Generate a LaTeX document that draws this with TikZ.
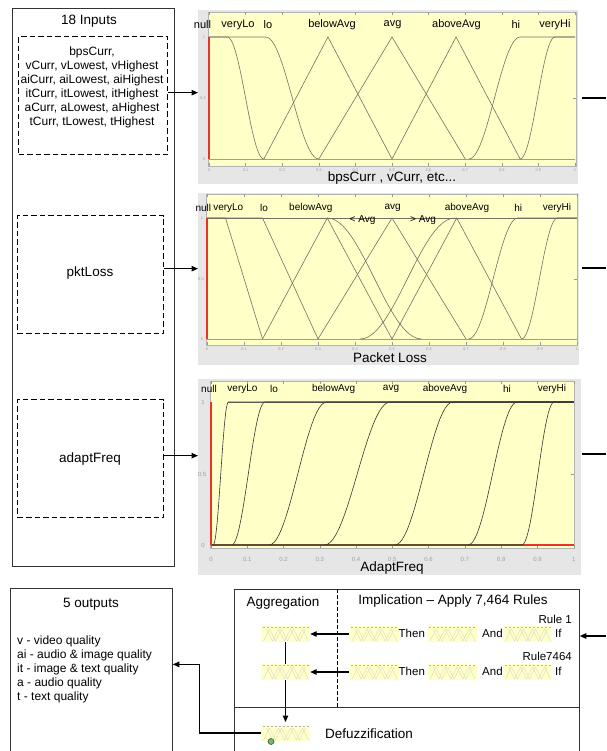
\documentclass[tikz,border=0pt]{standalone}
\usepackage{fontspec}
\setmainfont{Liberation Sans}
\usetikzlibrary{arrows.meta}
\pgfdeclarelayer{bg}
\pgfsetlayers{bg,main}
\definecolor{plotyel}{HTML}{FFFFC8}
\definecolor{plotgray}{HTML}{E6E6E6}
\definecolor{mfcol}{HTML}{7A6E62}
\definecolor{mfdark}{HTML}{3A3530}
\definecolor{mfred}{HTML}{E8332A}
\definecolor{mfgreen}{HTML}{6CBF6C}
\definecolor{ticklab}{HTML}{A0A0A0}
\definecolor{botline}{HTML}{6A4A30}
\newcommand\mfUp[3][mfc]{\draw[#1] plot[domain=#2:#3,samples=24] (\x,{0.5-0.5*cos(180*(\x-#2)/(#3-#2))}) -- (1,1);}
\newcommand\mfDown[2]{\draw[mfc] (0,1) -- plot[domain=#1:#2,samples=24] (\x,{0.5+0.5*cos(180*(\x-#1)/(#2-#1))});}
\newcommand\mfTri[3]{\draw[mfc] (#1,0) -- (#2,1) -- (#3,0);}
\begin{document}
\begin{tikzpicture}[x=1pt,y=-1pt,
  sbox/.style={draw=black!80, line width=0.8pt, inner sep=0, anchor=north west},
  dbox/.style={draw=black, line width=1.3pt, dash pattern=on 5.5pt off 3pt, inner sep=0, anchor=north west},
  hd/.style={font=\fontsize{13.5}{15}\selectfont, inner sep=0},
  bd/.style={font=\fontsize{12}{14}\selectfont, inner sep=0},
  sm/.style={font=\fontsize{11.5}{13}\selectfont, inner sep=0},
  lab11/.style={font=\fontsize{11}{13}\selectfont, inner sep=0},
  lab10/.style={font=\fontsize{10}{12}\selectfont, inner sep=0},
  ticklbl/.style={font=\fontsize{4}{4}\selectfont, text=ticklab, inner sep=0},
  ticklblb/.style={font=\fontsize{6}{6}\selectfont, text=ticklab, inner sep=0},
  tickc/.style={draw=black!40, line width=0.4pt},
  arr/.style={-{Triangle[length=6.5pt,width=5.5pt]}, line width=1.1pt},
  conn/.style={line width=1.1pt},
  bgplot/.style={fill=plotgray, inner sep=0, anchor=north west},
  yelframe/.style={fill=plotyel, draw=black!30, line width=0.4pt},
  mfc/.style={draw=mfcol, line width=0.6pt},
  mfd/.style={draw=mfdark, line width=0.6pt},
  minibox/.style={fill=plotyel, minimum width=49pt, minimum height=16pt, inner sep=0},
  minil/.style={draw=mfcol!30, line width=0.3pt},
  minipic/.pic={
    \node[minibox] (box) {};
    \draw[minil] (-22,7) -- (-16,-5) -- (-10,7) -- (-4,-5) -- (2,7) -- (8,-5) -- (14,7) -- (20,-5);
    \draw[minil] (-19,-5) -- (-13,7) -- (-7,-5) -- (-1,7) -- (5,-5) -- (11,7) -- (17,-5) -- (23,7);
    \draw[draw=gray!60, dash pattern=on 2pt off 2pt, line width=0.4pt] (-23,-6.5) -- (23,-6.5);
  }
]
\useasboundingbox (0,0) rectangle (606,751);
\begin{pgfonlayer}{bg}
\fill[white] (0,0) rectangle (606,751);
\end{pgfonlayer}

% ---------------- inputs ----------------
\node[sbox, minimum width=162pt, minimum height=558pt] (inbox) at (12,8) {};
\node[hd] (intitle) at (89,21) {18 Inputs};
\node[dbox, minimum width=149pt, minimum height=118pt] (in1) at (18,36) {};
\node[bd, align=center] (in1t) at (92,87) {bpsCurr,\\vCurr, vLowest, vHighest\\aiCurr, aiLowest, aiHighest\\itCurr, itLowest, itHighest\\aCurr, aLowest, aHighest\\tCurr, tLowest, tHighest};
\node[dbox, minimum width=146pt, minimum height=118pt] (in2) at (17,215) {};
\node[hd] (in2t) at (90,273) {pktLoss};
\node[dbox, minimum width=146pt, minimum height=118pt] (in3) at (17,399) {};
\node[hd] (in3t) at (90,459) {adaptFreq};

% ---------------- plot 1 ----------------
\node[bgplot, minimum width=380pt, minimum height=174pt] (g1) at (198,10) {};
\draw[yelframe] (208,12) rectangle (576,166);
\foreach \i/\t in {0/0,1/0.1,2/0.2,3/0.3,4/0.4,5/0.5,6/0.6,7/0.7,8/0.8,9/0.9,10/1} {
  \draw[tickc] ({209+36.6*\i},12) -- ++(0,3);
  \draw[tickc] ({209+36.6*\i},166) -- ++(0,-3);
  \node[ticklbl] (p1x\i) at ({209+36.6*\i},170) {\t};
}
\draw[tickc] (576,98) -- ++(-3,0);
\node[ticklbl] (p1y0) at (204,159) {0};
\node[ticklbl] (p1y5) at (203,98) {0.5};
\node[ticklbl] (p1y1) at (204,37) {1};
\begin{scope}[shift={(209,159)}, xscale=366, yscale=-122]
  \draw[mfgreen, line width=0.9pt] (0,0) -- (1,0);
  \mfDown{0.05}{0.15}
  \mfDown{0.155}{0.30}
  \mfTri{0.15}{0.325}{0.5}
  \mfTri{0.3}{0.5}{0.7}
  \mfTri{0.5}{0.675}{0.85}
  \mfUp{0.71}{0.85}
  \mfUp{0.85}{0.945}
  \draw[mfred, line width=1.3pt] (0,0) -- (0,1);
\end{scope}
\foreach \t/\x [count=\k] in {null/202.5, veryLo/238, lo/268, belowAvg/332, avg/392.5, aboveAvg/456.5, hi/515.8, veryHi/555}
  \node[lab11] (p1l\k) at (\x,25) {\t};
\node[hd] (p1title) at (392,178) {bpsCurr , vCurr, etc...};

% ---------------- plot 2 ----------------
\node[bgplot, minimum width=381pt, minimum height=172pt] (g2) at (198,193) {};
\draw[yelframe] (206,194) rectangle (577,345);
\foreach \i/\t in {0/0,1/0.1,2/0.2,3/0.3,4/0.4,5/0.5,6/0.6,7/0.7,8/0.8,9/0.9,10/1} {
  \draw[tickc] ({207+37*\i},194) -- ++(0,3);
  \draw[tickc] ({207+37*\i},345) -- ++(0,-3);
  \node[ticklbl] (p2x\i) at ({207+37*\i},349) {\t};
}
\draw[tickc] (577,279) -- ++(-3,0);
\node[ticklbl] (p2y0) at (202,339) {0};
\node[ticklbl] (p2y5) at (201,279) {0.5};
\node[ticklbl] (p2y1) at (202,218) {1};
\begin{scope}[shift={(207,339)}, xscale=370, yscale=-121]
  \draw[mfgreen, line width=0.9pt] (0,0) -- (1,0);
  \draw[mfc] (0,1) -- (1,1);
  \draw[mfc] (0,1) -- (0.05,1) -- (0.15,0);
  \draw[mfc] (0,1) -- (0.15,1) -- (0.3,0);
  \mfTri{0.15}{0.325}{0.5}
  \draw[mfc] plot[domain=0.325:0.58,samples=24] (\x,{0.5+0.5*cos(180*(\x-0.325)/0.255)});
  \mfTri{0.3}{0.5}{0.7}
  \draw[mfc] plot[domain=0.414:0.67,samples=24] (\x,{0.5-0.5*cos(180*(\x-0.414)/0.256)});
  \mfTri{0.5}{0.675}{0.85}
  \mfUp{0.707}{0.84}
  \mfUp{0.85}{0.947}
  \draw[mfred, line width=1.3pt] (0,0) -- (0,1);
\end{scope}
\foreach \t/\x [count=\k] in {null/203.3, veryLo/228.3, lo/264, belowAvg/310.8, avg/392.7, aboveAvg/467, hi/518.3, veryHi/557}
  \node[lab10] (p2l\k) at (\x,208) {\t};
\node[lab10] (p2lt) at (362.5,220) {< Avg};
\node[lab10] (p2gt) at (423,220) {> Avg};
\node[hd] (p2title) at (390,358) {Packet Loss};

% ---------------- plot 3 ----------------
\node[bgplot, minimum width=383pt, minimum height=196pt] (g3) at (198,379) {};
\draw[yelframe] (210,381) rectangle (573.7,548);
\foreach \i/\t in {0/0,1/0.1,2/0.2,3/0.3,4/0.4,5/0.5,6/0.6,7/0.7,8/0.8,9/0.9,10/1} {
  \draw[tickc] ({211+36.27*\i},381) -- ++(0,3);
  \draw[tickc] ({211+36.27*\i},548) -- ++(0,-3);
  \node[ticklblb] (p3x\i) at ({211+36.27*\i},559) {\t};
}
\draw[tickc] (573.7,474) -- ++(-3,0);
\node[ticklblb] (p3y0) at (203,545) {0};
\node[ticklblb] (p3y5) at (202,474) {0.5};
\node[ticklblb] (p3y1) at (203,402) {1};
\begin{scope}[shift={(211,545)}, xscale=362.7, yscale=-143]
  \draw[mfc] (0.048,1) -- (1,1);
  \draw[draw=botline, line width=1.2pt] (0,0) -- (0.857,0);
  \draw[draw=mfred, line width=1.2pt] (0.857,0) -- (1,0);
  \mfUp[mfd]{0.006}{0.048}
  \mfUp[mfd]{0.057}{0.149}
  \mfUp[mfd]{0.16}{0.319}
  \mfUp[mfd]{0.313}{0.494}
  \mfUp[mfd]{0.507}{0.667}
  \mfUp[mfd]{0.709}{0.844}
  \mfUp[mfd]{0.857}{0.946}
  \draw[mfred, line width=1.3pt] (0,0) -- (0,1);
\end{scope}
\foreach \t/\x [count=\k] in {null/209, veryLo/242.5, lo/274, belowAvg/333.7, avg/391, aboveAvg/445, hi/507, veryHi/552}
  \node[lab10] (p3l\k) at (\x,389) {\t};
\node[hd] (p3title) at (392,568) {AdaptFreq};

% ---------------- input arrows and right connectors ----------------
\draw[arr] ([yshift=3pt]in1.east) coordinate (s1) -- (s1 -| g1.west);
\draw[arr] ([yshift=6pt]in2.east) coordinate (s2) -- (s2 -| g2.west);
\draw[arr] ([yshift=3pt]in3.east) coordinate (s3) -- (s3 -| g3.west);
\coordinate (r1o) at (606,98);
\coordinate (r2o) at (606,268);
\coordinate (r3o) at (606,454);
\coordinate (rin) at (606,636);
\draw[conn] (r1o -| g1.east) ++(4,0) -- (r1o);
\draw[conn] (r2o -| g2.east) ++(3,0) -- (r2o);
\draw[conn] (r3o -| g3.east) ++(1,0) -- (r3o);

% ---------------- outputs ----------------
\node[sbox, minimum width=162pt, minimum height=164pt] (outbox) at (10,588) {};
\node[hd] (outt) at (91,604) {5 outputs};
\node[bd, align=left, anchor=west] (outl) at (17,669) {v - video quality\\ai - audio \& image quality\\it - image \& text quality\\a - audio quality\\t - text quality};

% ---------------- rules ----------------
\node[sbox, minimum width=345pt, minimum height=163pt] (rules) at (234,589) {};
\draw[draw=black!80, line width=0.8pt] (234,707) -- (579,707);
\draw[line width=1pt, dash pattern=on 4pt off 2pt] (337,589) -- (337,707);
\node[hd] (aggt) at (283,603) {Aggregation};
\node[hd] (implt) at (453,601) {Implication – Apply 7,464 Rules};
\node[sm, anchor=east] (rule1) at (572,619) {Rule 1};
\node[sm, anchor=east] (rulen) at (572,656) {Rule7464};

\begin{pgfonlayer}{bg}
\draw[arr] (285.5,642) coordinate (aggdown) -- (285.5,722);
\end{pgfonlayer}

\pic (agg1) at (285.5,634) {minipic};
\pic (agg2) at (285.5,672) {minipic};
\pic (r1a) at (374,634) {minipic};
\pic (r1b) at (452,634) {minipic};
\pic (r1c) at (527.5,634) {minipic};
\pic (r2a) at (374,672) {minipic};
\pic (r2b) at (452,672) {minipic};
\pic (r2c) at (527.5,672) {minipic};
\pic (dz) at (285.5,733) {minipic};
\node[circle, draw=black!70, fill=green!60!black!60, minimum size=6pt, inner sep=0, line width=0.6pt] (dzdot) at (271,741.5) {};

\node[sm, anchor=west] (then1) at (398.5,633) {Then};
\node[sm, anchor=west] (and1) at (482,633) {And};
\node[sm, anchor=west] (if1) at (555,633) {If};
\node[sm, anchor=west] (then2) at (398.5,671) {Then};
\node[sm, anchor=west] (and2) at (482,671) {And};
\node[sm, anchor=west] (if2) at (555,671) {If};
\node[hd, anchor=west] (dzt) at (325,734) {Defuzzification};

\draw[arr] (r1abox.west) -- (agg1box.east);
\draw[arr] (r2abox.west) -- (agg2box.east);
\draw[arr] (rin) -- (rin -| rules.east);
\draw[arr] (dzbox.west) -- ++(-61,0) |- ([yshift=6pt]outbox.east);
\end{tikzpicture}
\end{document}
